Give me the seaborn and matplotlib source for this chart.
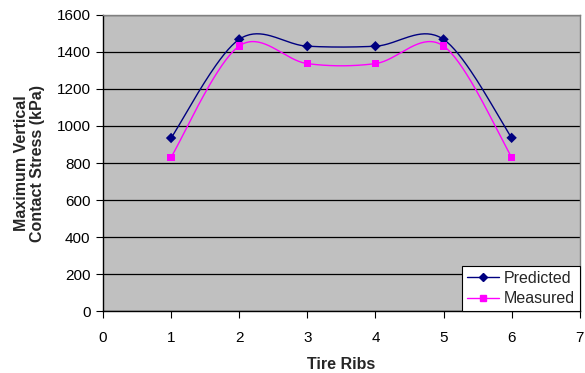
import matplotlib
matplotlib.use("Agg")
import matplotlib.pyplot as plt
from matplotlib.lines import Line2D
import numpy as np
import pandas as pd
import seaborn as sns

RIBS = [1, 2, 3, 4, 5, 6]
PREDICTED = [935, 1468, 1431, 1431, 1468, 936]
MEASURED = [831, 1432, 1337, 1337, 1432, 831]

PRED_COLOUR = "#000080"
MEAS_COLOUR = "#FF00FF"


def smooth_curve(xs, ys, steps=40):
    # Excel-style smoothed line: Catmull-Rom segments drawn as cubic Beziers
    pts = np.column_stack([xs, ys]).astype(float)
    pad = np.vstack([pts[0], pts, pts[-1]])
    out = []
    for i in range(1, len(pad) - 2):
        p0, p1, p2, p3 = pad[i - 1], pad[i], pad[i + 1], pad[i + 2]
        c1 = p1 + (p2 - p0) / 6
        c2 = p2 - (p3 - p1) / 6
        t = np.linspace(0, 1, steps)[:, None]
        seg = ((1 - t) ** 3) * p1 + 3 * ((1 - t) ** 2) * t * c1 \
            + 3 * (1 - t) * t ** 2 * c2 + t ** 3 * p2
        out.append(seg if i == 1 else seg[1:])
    return np.vstack(out)


sns.set_style("white")
plt.rcParams["font.family"] = ["Liberation Sans", "DejaVu Sans"]

df = pd.DataFrame({
    "rib": RIBS * 2,
    "stress": PREDICTED + MEASURED,
    "series": ["Predicted"] * len(RIBS) + ["Measured"] * len(RIBS),
})

fig = plt.figure(figsize=(5.85, 3.73), dpi=100)
ax = fig.add_axes([0.176, 0.166, 0.815, 0.794])
ax.set_facecolor("#C0C0C0")

for vals, colour in [(PREDICTED, PRED_COLOUR), (MEASURED, MEAS_COLOUR)]:
    curve = smooth_curve(RIBS, vals)
    ax.plot(curve[:, 0], curve[:, 1], color=colour, linewidth=1.0, zorder=3)

sns.scatterplot(data=df, x="rib", y="stress", hue="series", style="series",
                palette={"Predicted": PRED_COLOUR, "Measured": MEAS_COLOUR},
                markers={"Predicted": "D", "Measured": "s"},
                s=28, linewidth=0, legend=False, ax=ax, zorder=4)

ax.set_xlim(0, 7)
ax.set_ylim(0, 1600)
ax.set_xticks(range(0, 8))
ax.set_yticks(range(0, 1601, 200))
ax.yaxis.grid(True, color="black", linewidth=0.9)
ax.xaxis.grid(False)
ax.set_axisbelow(True)

ax.spines["left"].set_color("black")
ax.spines["bottom"].set_color("black")
ax.spines["top"].set_color("#808080")
ax.spines["right"].set_color("#808080")
for s in ax.spines.values():
    s.set_linewidth(1.0)

ax.tick_params(axis="both", direction="out", length=5, width=0.8,
               labelsize=11, colors="black", bottom=True, left=True, pad=4)
ax.tick_params(axis="x", pad=9)

ax.set_xlabel("Tire Ribs", fontsize=11.5, fontweight="bold", labelpad=9)
ax.set_ylabel("Maximum Vertical\nContact Stress (kPa)", fontsize=11.5,
              fontweight="bold", labelpad=8, linespacing=1.1)

handles = [
    Line2D([], [], color=PRED_COLOUR, marker="D", markersize=4, linewidth=1.0),
    Line2D([], [], color=MEAS_COLOUR, marker="s", markersize=5, linewidth=1.0),
]
leg = ax.legend(handles, ["Predicted", "Measured"], loc="lower right",
                fontsize=11.5, frameon=True, fancybox=False, framealpha=1,
                edgecolor="black", borderaxespad=0, borderpad=0.3,
                handlelength=2.0, handletextpad=0.3, labelspacing=0.35)
leg.get_frame().set_linewidth(0.8)
leg.get_frame().set_facecolor("white")

fig.savefig("out.png", dpi=100)
